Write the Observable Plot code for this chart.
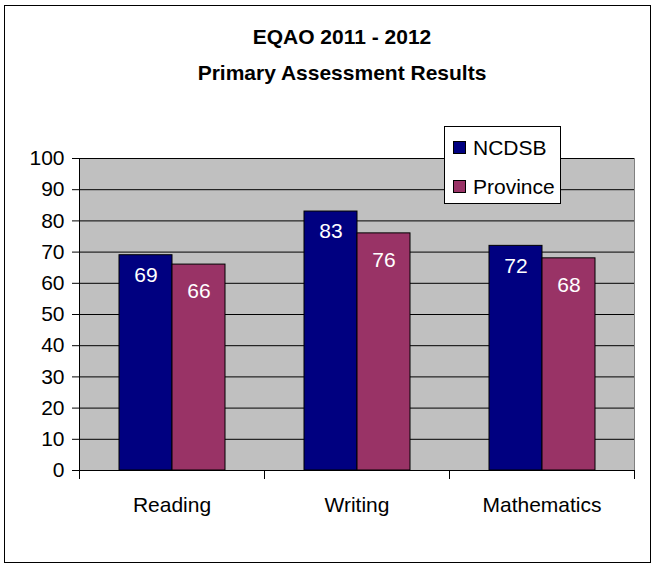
<!DOCTYPE html>
<html>
<head>
<meta charset="utf-8">
<script src="https://cdn.jsdelivr.net/npm/d3@7"></script>
<script src="https://cdn.jsdelivr.net/npm/@observablehq/plot@0.6"></script>
<style>
  html, body { margin: 0; padding: 0; background: #fff; }
  #wrap { position: relative; width: 656px; height: 568px; overflow: hidden; font-family: "Liberation Sans", Arial, sans-serif; }
  #border { position: absolute; left: 4px; top: 5px; width: 645px; height: 556px; border: 1px solid #000; pointer-events: none; }
  #title { height: 100px; box-sizing: border-box; padding-top: 19px; padding-left: 28px; text-align: center; font-weight: bold; font-size: 21px; line-height: 36px; color: #000; }
  #chart svg { display: block; }
  #legend { position: absolute; left: 444px; top: 126px; width: 115px; height: 76px; border: 1px solid #000; background: #fff; box-sizing: content-box; }
  #legend .lg-swatches { margin: 0 !important; padding: 1px 0 0 8px !important; font-family: "Liberation Sans", Arial, sans-serif !important; font-size: 21px !important; color: #000 !important; display: block !important; columns: auto !important; }
  #legend .lg-swatch { display: flex !important; align-items: center !important; height: 39px !important; margin: 0 !important; padding: 0 !important; white-space: nowrap; }
  #legend .lg-swatch svg { margin-right: 7px !important; overflow: hidden !important; flex-shrink: 0; }
  #legend .lg-swatch svg rect { stroke: #000; stroke-width: 2px; }
</style>
</head>
<body>
<div id="wrap">
  <div id="title"><div>EQAO 2011 - 2012</div><div>Primary Assessment Results</div></div>
  <div id="chart"></div>
  <div id="legend"></div>
  <div id="border"></div>
</div>
<script>
// ---- data ----
const subjects = ["Reading", "Writing", "Mathematics"];
const seriesNames = ["NCDSB", "Province"];
const ncdsbValues = [69, 83, 72];
const provinceValues = [66, 76, 68];
const yTicks = [0, 10, 20, 30, 40, 50, 60, 70, 80, 90, 100];
const seriesColors = ["#000080", "#993366"];

const rows = subjects.flatMap((s, i) => [
  {subject: s, series: seriesNames[0], value: ncdsbValues[i]},
  {subject: s, series: seriesNames[1], value: provinceValues[i]}
]);

const font = "'Liberation Sans', Arial, sans-serif";

const chart = Plot.plot({
  width: 656,
  height: 468,
  marginTop: 58,
  marginBottom: 98,
  marginLeft: 78,
  marginRight: 21,
  style: {fontFamily: font, fontSize: "21px", color: "#000", background: "transparent", overflow: "visible"},
  fx: {domain: subjects, padding: 0, axis: "bottom", label: null, tickSize: 0, tickPadding: 27},
  x: {domain: seriesNames, axis: null, paddingInner: 0, paddingOuter: 0.72},
  y: {domain: [0, 100], ticks: yTicks, tickSize: 7, tickPadding: 8, label: null},
  color: {domain: seriesNames, range: seriesColors},
  marks: [
    Plot.frame({facet: "super", fill: "#c0c0c0", stroke: "#808080"}),
    Plot.gridY(yTicks, {stroke: "#000", strokeOpacity: 1}),
    Plot.barY(rows, {fx: "subject", x: "series", y: "value", fill: "series", stroke: "#000", strokeWidth: 1}),
    Plot.text(rows.filter(d => d.series === seriesNames[0]), {fx: "subject", x: "series", y: "value", text: d => String(d.value), fill: "#fff", dy: 20, fontSize: 21}),
    Plot.text(rows.filter(d => d.series === seriesNames[1]), {fx: "subject", x: "series", y: "value", text: d => String(d.value), fill: "#fff", dy: 27, fontSize: 21}),
    Plot.ruleY([0], {stroke: "#000"}),
    Plot.frame({facet: "super", anchor: "left", insetBottom: -8, stroke: "#000"}),
    Plot.frame({anchor: "right", insetTop: 312, insetBottom: -8, stroke: "#000"})
  ]
});
document.getElementById("chart").appendChild(chart);

const legend = Plot.legend({
  color: {domain: seriesNames, range: seriesColors},
  legend: "swatches",
  columns: 1,
  swatchSize: 13,
  className: "lg"
});
document.getElementById("legend").appendChild(legend);
</script>
</body>
</html>
